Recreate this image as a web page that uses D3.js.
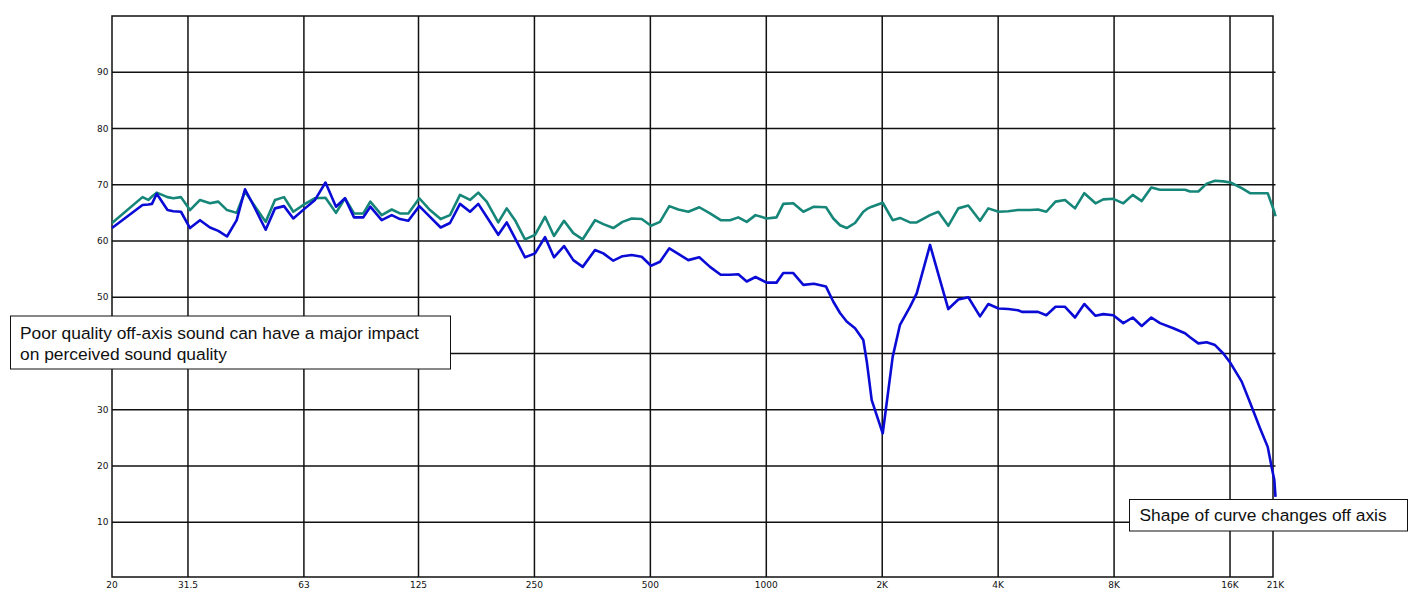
<!DOCTYPE html>
<html>
<head>
<meta charset="utf-8">
<script src="https://cdn.jsdelivr.net/npm/d3@7"></script>
<style>
  html, body { margin: 0; padding: 0; background: #fff; }
  svg { display: block; }
</style>
</head>
<body>
<svg id="chart" width="1415" height="607"></svg>
<script>
// ---- data ----
const freqHz = [20, 24.0, 24.85, 25.4, 26.13, 27.87, 28.85, 30.21, 31.88, 33.85,
  35.93, 37.76, 39.78, 42.15, 44.3, 46.55, 50.13, 53.0, 55.93, 59.13,
  63.41, 67.32, 71.68, 76.32, 80.55, 85.0, 89.86, 93.7, 100.3, 106.5,
  111.9, 117.6, 125.6, 133.9, 142.7, 150.9, 160.2, 170.1, 178.7, 187.9,
  201.4, 211.8, 222.6, 236.3, 250.9, 266.3, 281.0, 298.4, 315.4, 333.7,
  359.1, 377.4, 400.6, 423.3, 447.2, 474.8, 501.9, 529.6, 560.0, 590.9,
  627.3, 670.0, 714.2, 761.4, 805.0, 846.0, 889.5, 937.5, 1002, 1063,
  1107, 1175, 1248, 1330, 1429, 1493, 1554, 1617, 1700, 1786,
  1826, 1878, 2006, 2129, 2224, 2361, 2458, 2662, 2797, 2969,
  3152, 3346, 3589, 3771, 4009, 4250, 4504, 4613, 4839, 5076,
  5335, 5636, 5966, 6333, 6695, 7159, 7501, 7963, 8454, 8943,
  9437, 9994, 10528, 11400, 12226, 12596, 13237, 13919, 14628, 15371,
  16048, 17159, 18033, 19143, 20045, 20506, 20852, 21000];

// on-axis response (teal)
const onAxisDb = [63.2, 67.8, 67.3, 67.9, 68.6, 67.8, 67.6, 67.8, 65.5, 67.3,
  66.7, 67.0, 65.5, 65.0, 68.8, 66.6, 63.4, 67.3, 67.8, 65.2,
  66.6, 67.6, 67.7, 65.0, 67.6, 64.9, 64.9, 67.0, 64.6, 65.6,
  64.9, 64.9, 67.6, 65.5, 63.9, 64.6, 68.2, 67.3, 68.6, 67.0,
  63.3, 65.8, 63.7, 60.3, 61.1, 64.3, 60.9, 63.6, 61.4, 60.3,
  63.7, 63.0, 62.3, 63.4, 64.0, 63.9, 62.7, 63.4, 66.2, 65.6,
  65.2, 66.0, 64.9, 63.7, 63.7, 64.2, 63.4, 64.6, 64.0, 64.2,
  66.6, 66.7, 65.2, 66.1, 66.0, 64.0, 62.8, 62.3, 63.2, 65.2,
  65.7, 66.1, 66.8, 63.7, 64.1, 63.3, 63.3, 64.6, 65.2, 62.7,
  65.8, 66.3, 63.6, 65.8, 65.2, 65.3, 65.5, 65.5, 65.5, 65.6,
  65.2, 67.0, 67.3, 65.8, 68.5, 66.7, 67.4, 67.5, 66.7, 68.2,
  67.1, 69.5, 69.1, 69.1, 69.1, 68.8, 68.8, 70.2, 70.7, 70.6,
  70.4, 69.4, 68.5, 68.5, 68.5, 66.6, 65.2, 64.4];

// off-axis response (blue)
const offAxisDb = [62.3, 66.4, 66.5, 66.6, 68.4, 65.5, 65.3, 65.2, 62.3, 63.7,
  62.4, 61.8, 60.8, 63.7, 69.2, 66.4, 62.0, 65.8, 66.2, 64.0,
  65.8, 67.3, 70.4, 66.1, 67.6, 64.2, 64.2, 66.1, 63.7, 64.6,
  63.9, 63.6, 66.2, 64.3, 62.4, 63.2, 66.6, 65.2, 66.6, 64.3,
  61.1, 63.3, 60.5, 57.1, 57.8, 60.7, 57.1, 59.1, 56.6, 55.4,
  58.4, 57.8, 56.5, 57.3, 57.5, 57.2, 55.6, 56.3, 58.7, 57.7,
  56.6, 57.1, 55.4, 54.0, 54.0, 54.1, 52.8, 53.6, 52.6, 52.6,
  54.3, 54.3, 52.2, 52.4, 51.9, 49.2, 47.2, 45.7, 44.5, 42.4,
  38.3, 31.7, 25.8, 39.4, 45.1, 48.3, 50.7, 59.3, 54.1, 47.9,
  49.6, 50.0, 46.6, 48.8, 48.0, 47.9, 47.7, 47.4, 47.4, 47.4,
  46.8, 48.3, 48.3, 46.4, 48.8, 46.7, 47.0, 46.8, 45.4, 46.4,
  44.9, 46.4, 45.4, 44.5, 43.6, 42.9, 41.8, 42.0, 41.5, 40.0,
  38.3, 35.0, 31.3, 26.7, 23.4, 19.9, 17.5, 14.5];

const xTickValues = [20, 31.5, 63, 125, 250, 500, 1000, 2000, 4000, 8000, 16000, 21000];
const xTickLabels = ["20", "31.5", "63", "125", "250", "500", "1000", "2K", "4K", "8K", "16K", "21K"];
const xGridValues = [31.5, 63, 125, 250, 500, 1000, 2000, 4000, 8000, 16000];
const yGridValues = [10, 20, 30, 40, 50, 60, 70, 80, 90];
// the "40" label is hidden behind the annotation box in the reference
const yLabelValues = [10, 20, 30, 50, 60, 70, 80, 90];

const notes = [
  { lines: ["Poor quality off-axis sound can have a major impact", "on perceived sound quality"] },
  { lines: ["Shape of curve changes off axis"] }
];

// ---- layout ----
const plotLeft = 112, plotRight = 1273, plotTop = 16, plotBottom = 577;
const svg = d3.select("#chart");

const x = d3.scaleLog().domain([20, 21000]).range([112, 1275.5]);
const y = d3.scaleLinear().domain([0, 100]).range([578.5, 16]);

const gridColor = "#111";

// horizontal grid lines
svg.append("g").selectAll("line").data(yGridValues).join("line")
  .attr("x1", plotLeft).attr("x2", plotRight + 2.5)
  .attr("y1", d => y(d)).attr("y2", d => y(d))
  .attr("stroke", gridColor).attr("stroke-width", 1.5);

// vertical grid lines
svg.append("g").selectAll("line").data(xGridValues).join("line")
  .attr("x1", d => x(d)).attr("x2", d => x(d))
  .attr("y1", plotTop).attr("y2", plotBottom)
  .attr("stroke", gridColor).attr("stroke-width", 1.5);

// frame
svg.append("rect")
  .attr("x", plotLeft).attr("y", plotTop)
  .attr("width", plotRight - plotLeft).attr("height", plotBottom - plotTop)
  .attr("fill", "none").attr("stroke", gridColor).attr("stroke-width", 1.5);

// y tick labels
svg.append("g").selectAll("text").data(yLabelValues).join("text")
  .attr("x", 108.5).attr("y", d => y(d))
  .attr("dy", "0.35em")
  .attr("text-anchor", "end")
  .attr("font-family", "DejaVu Sans, sans-serif")
  .attr("font-size", 9)
  .attr("fill", "#111")
  .text(d => d);

// x tick labels
svg.append("g").selectAll("text").data(xTickValues).join("text")
  .attr("x", d => x(d)).attr("y", 587.5)
  .attr("text-anchor", "middle")
  .attr("font-family", "DejaVu Sans, sans-serif")
  .attr("font-size", 9)
  .attr("fill", "#111")
  .text((d, i) => xTickLabels[i]);

// curves
const line = d3.line().x(d => x(d[0])).y(d => y(d[1]));
const onAxis = freqHz.map((f, i) => [f, onAxisDb[i]]);
const offAxis = freqHz.map((f, i) => [f, offAxisDb[i]]);

svg.append("path").datum(onAxis)
  .attr("d", line).attr("fill", "none")
  .attr("stroke", "#168679").attr("stroke-width", 2.6)
  .attr("stroke-linejoin", "round");

svg.append("path").datum(offAxis)
  .attr("d", line).attr("fill", "none")
  .attr("stroke", "#0b0bd6").attr("stroke-width", 2.6)
  .attr("stroke-linejoin", "round");

// annotation boxes
const boxes = [
  { x: 10.5, y: 316, w: 440, h: 53, tx: 20, ty: [338.5, 359.5] },
  { x: 1129.5, y: 499.5, w: 278, h: 31.5, tx: 1139.5, ty: [521] }
];
boxes.forEach((b, i) => {
  const g = svg.append("g");
  g.append("rect").attr("x", b.x).attr("y", b.y).attr("width", b.w).attr("height", b.h)
    .attr("fill", "#fff").attr("stroke", "#111").attr("stroke-width", 1);
  notes[i].lines.forEach((t, j) => {
    g.append("text").attr("x", b.tx).attr("y", b.ty[j])
      .attr("font-family", "Liberation Sans, Arial, sans-serif")
      .attr("font-size", 17.4).attr("fill", "#111")
      .text(t);
  });
});
</script>
</body>
</html>
